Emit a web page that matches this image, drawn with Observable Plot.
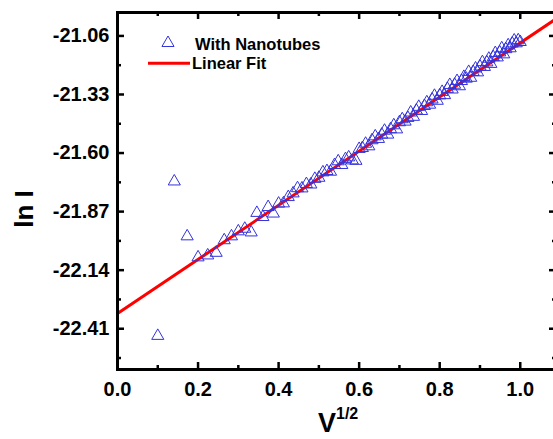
<!DOCTYPE html>
<html><head><meta charset="utf-8">
<script src="https://cdn.jsdelivr.net/npm/d3@7"></script>
<script src="https://cdn.jsdelivr.net/npm/@observablehq/plot@0.6"></script>
<style>
html,body{margin:0;padding:0;background:#fff;overflow:hidden;}
</style></head><body><div id="chart"></div>
<script>
// V^(1/2) values of the measured points
const xValues = [
  0.100,0.141,0.173,0.200,0.224,0.245,0.265,0.283,0.300,0.316,
  0.332,0.346,0.361,0.374,0.387,0.400,0.412,0.424,0.436,0.447,
  0.458,0.469,0.480,0.490,0.500,0.510,0.520,0.529,0.539,0.548,
  0.557,0.566,0.574,0.583,0.592,0.600,0.608,0.616,0.624,0.632,
  0.640,0.648,0.656,0.663,0.671,0.678,0.686,0.693,0.700,0.707,
  0.714,0.721,0.728,0.735,0.742,0.748,0.755,0.762,0.768,0.775,
  0.781,0.787,0.794,0.800,0.806,0.812,0.819,0.825,0.831,0.837,
  0.843,0.849,0.854,0.860,0.866,0.872,0.877,0.883,0.889,0.894,
  0.900,0.906,0.911,0.917,0.922,0.927,0.933,0.938,0.943,0.949,
  0.954,0.959,0.964,0.970,0.975,0.980,0.985,0.990,0.995,1.000
];
// ln I values of the measured points
const yValues = [
  -22.443,-21.731,-21.984,-22.081,-22.072,-22.060,-22.002,-21.984,-21.961,-21.949,
  -21.966,-21.876,-21.895,-21.849,-21.879,-21.833,-21.832,-21.803,-21.786,-21.762,
  -21.763,-21.743,-21.745,-21.719,-21.714,-21.689,-21.683,-21.686,-21.655,-21.638,
  -21.655,-21.628,-21.620,-21.634,-21.636,-21.581,-21.577,-21.557,-21.569,-21.541,
  -21.523,-21.535,-21.515,-21.497,-21.515,-21.490,-21.472,-21.491,-21.458,-21.444,
  -21.455,-21.438,-21.413,-21.433,-21.404,-21.387,-21.406,-21.383,-21.366,-21.377,
  -21.353,-21.336,-21.359,-21.334,-21.318,-21.333,-21.304,-21.286,-21.307,-21.285,
  -21.268,-21.292,-21.268,-21.249,-21.257,-21.226,-21.253,-21.226,-21.210,-21.228,
  -21.201,-21.181,-21.203,-21.182,-21.165,-21.189,-21.158,-21.139,-21.159,-21.136,
  -21.117,-21.145,-21.121,-21.103,-21.117,-21.095,-21.081,-21.094,-21.080,-21.088
];
// linear fit parameters
const fitIntercept = -22.34;
const fitSlope = 1.248;
const fitX = [0, 1.09];

const xMajor = [0, 0.2, 0.4, 0.6, 0.8, 1.0];
const xMinor = [0.1, 0.3, 0.5, 0.7, 0.9];
const yMajor = [-22.41, -22.14, -21.87, -21.60, -21.33, -21.06];
const yMinor = [-22.545, -22.275, -22.005, -21.735, -21.465, -21.195];
const xDomain = [0, 1.09];
const yDomain = [-22.598, -20.952];

const W = 560, H = 439, mL = 117, mR = 4, mT = 12, mB = 70;
const pw = W - mL - mR, ph = H - mT - mB;
const points = xValues.map((x, i) => ({x, y: yValues[i]}));
const fit = fitX.map(x => ({x, y: fitIntercept + fitSlope * x}));
const font = "'Liberation Sans', Arial, Helvetica, sans-serif";
const blue = "#3333dd";
const tw = 2.5, majL = 7, minL = 4;

const svg = Plot.plot({
  width: W, height: H, marginLeft: mL, marginRight: mR, marginTop: mT, marginBottom: mB,
  style: {fontFamily: font, fontWeight: "bold", background: "white", maxWidth: "none", color: "black"},
  x: {domain: xDomain},
  y: {domain: yDomain},
  marks: [
    Plot.line(fit, {x: "x", y: "y", stroke: "#ff0000", strokeWidth: 3, clip: true}),
    Plot.dot(points, {x: "x", y: "y", symbol: "triangle", r: 4.5, stroke: blue, strokeWidth: 1, fill: "none"}),
    Plot.tickX(xMajor, {x: d => d, insetTop: ph - majL, strokeWidth: tw}),
    Plot.tickX(xMinor, {x: d => d, insetTop: ph - minL, strokeWidth: tw}),
    Plot.tickX(xMajor, {x: d => d, insetBottom: ph - majL, strokeWidth: tw}),
    Plot.tickX(xMinor, {x: d => d, insetBottom: ph - minL, strokeWidth: tw}),
    Plot.tickY(yMajor, {y: d => d, insetRight: pw - majL, strokeWidth: tw}),
    Plot.tickY(yMinor, {y: d => d, insetRight: pw - minL, strokeWidth: tw}),
    Plot.tickY(yMajor, {y: d => d, insetLeft: pw - majL, strokeWidth: tw}),
    Plot.tickY(yMinor, {y: d => d, insetLeft: pw - minL, strokeWidth: tw}),
    Plot.axisX({ticks: xMajor, tickSize: 0, tickPadding: 12, tickFormat: d => d.toFixed(1), fontSize: 20, fontWeight: "bold", label: null}),
    Plot.axisY({ticks: yMajor, tickSize: 0, tickPadding: 8, tickFormat: d => d.toFixed(2), fontSize: 20, fontWeight: "bold", label: null}),
    Plot.frame({stroke: "black", strokeWidth: 3})
  ]
});
document.getElementById("chart").appendChild(svg);

const s = d3.select(svg);
// legend
s.append("path")
  .attr("d", d3.symbol(d3.symbolTriangle, 4.5 * 4.5 * Math.PI)())
  .attr("transform", "translate(168,43)")
  .attr("fill", "none").attr("stroke", blue).attr("stroke-width", 1);
s.append("text").attr("x", 195).attr("y", 49.5).attr("text-anchor", "start")
  .attr("font-size", 16.5).attr("font-weight", "bold").attr("fill", "black")
  .text("With Nanotubes");
s.append("line").attr("x1", 148).attr("x2", 190).attr("y1", 63.3).attr("y2", 63.3)
  .attr("stroke", "#ff0000").attr("stroke-width", 3);
s.append("text").attr("x", 192).attr("y", 69).attr("text-anchor", "start")
  .attr("font-size", 16.5).attr("font-weight", "bold").attr("fill", "black")
  .text("Linear Fit");
// axis titles
s.append("text").attr("transform", "translate(33,209) rotate(-90)")
  .attr("text-anchor", "middle").attr("font-size", 26).attr("font-weight", "bold").attr("fill", "black")
  .text("ln I");
const xt = s.append("text").attr("x", 318).attr("y", 432).attr("text-anchor", "start")
  .attr("font-weight", "bold").attr("fill", "black");
xt.append("tspan").attr("font-size", 27).text("V");
xt.append("tspan").attr("font-size", 16).attr("dy", -13).text("1/2");
</script>
</body></html>
